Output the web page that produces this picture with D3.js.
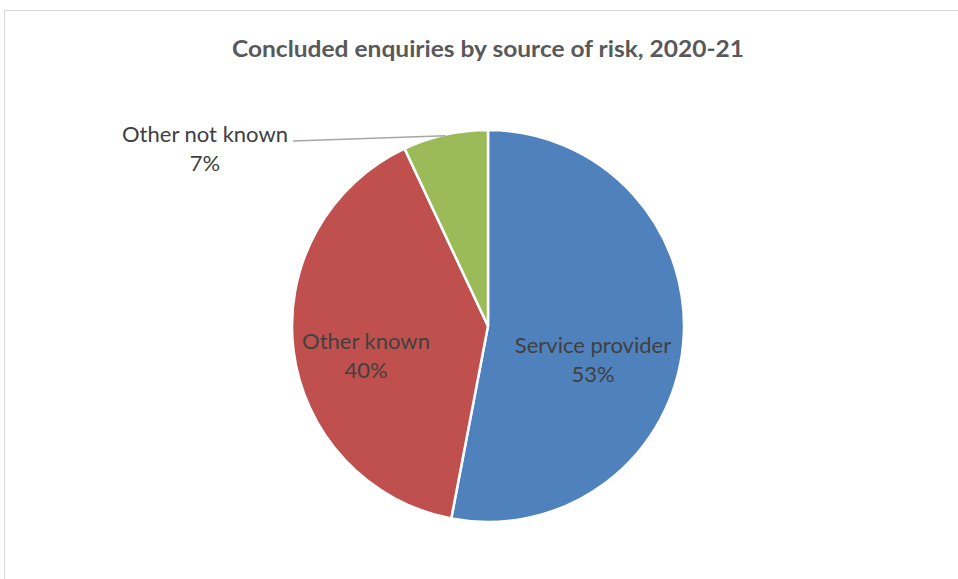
<!DOCTYPE html>
<html>
<head>
<meta charset="utf-8">
<script src="https://d3js.org/d3.v7.min.js"></script>
<style>
  body { margin: 0; background: #fff; }
  text { font-family: Lato, "Open Sans", sans-serif; }
</style>
</head>
<body>
<div class="chart-container"></div>
<script>
var width = 958,
    height = 579;

// data
var categories = ["Service provider", "Other known", "Other not known"];
var values = [53, 40, 7];
var colors = ["#4F81BD", "#C0504D", "#9BBB59"];
var chartTitle = "Concluded enquiries by source of risk, 2020-21";

var cx = 488, cy = 326, radius = 196;

var svg = d3.select(".chart-container").append("svg")
            .attr("width", width)
            .attr("height", height);

// chart border
svg.append("rect")
    .attr("x", 4.5)
    .attr("y", 10.5)
    .attr("width", width + 20)
    .attr("height", height + 20)
    .style("fill", "none")
    .style("stroke", "#d9d9d9")
    .style("stroke-width", 1);

svg.append("text")
    .attr("x", cx)
    .attr("y", 57)
    .attr("text-anchor", "middle")
    .attr("textLength", 512)
    .attr("lengthAdjust", "spacingAndGlyphs")
    .style("font-size", "23px")
    .style("font-weight", "bold")
    .style("fill", "#595959")
    .text(chartTitle);

var data = categories.map(function(c, i) {
    return { name: c, value: values[i], color: colors[i] };
});

var pie = d3.pie()
    .sort(null)
    .value(function(d) { return d.value; });

var arc = d3.arc()
    .innerRadius(0)
    .outerRadius(radius);

var g = svg.append("g")
    .attr("transform", "translate(" + cx + "," + cy + ")");

var arcs = pie(data);

g.selectAll("path")
    .data(arcs)
    .enter().append("path")
    .attr("d", arc)
    .style("fill", function(d) { return d.data.color; })
    .style("stroke", "#fff")
    .style("stroke-width", 2.5);

// label positions (baseline of first line), relative to the centre
var labelPos = [[105, 27], [-122, 23], [-283, -184]];

arcs.forEach(function(d, i) {
    var t = g.append("text")
        .attr("text-anchor", "middle")
        .style("font-size", "22px")
        .style("fill", "#404040");
    t.append("tspan")
        .attr("x", labelPos[i][0])
        .attr("y", labelPos[i][1])
        .text(d.data.name);
    t.append("tspan")
        .attr("x", labelPos[i][0])
        .attr("y", labelPos[i][1] + 28.5)
        .text(d.data.value + "%");
});

// leader line for the small slice
var small = arcs[2];
var mid = (small.startAngle + small.endAngle) / 2;
var edge = [Math.sin(mid) * (radius - 1), -Math.cos(mid) * (radius - 1)];
g.append("line")
    .attr("x1", -195)
    .attr("y1", -185)
    .attr("x2", edge[0])
    .attr("y2", edge[1])
    .style("stroke", "#a6a6a6")
    .style("stroke-width", 1.5);
</script>
</body>
</html>
